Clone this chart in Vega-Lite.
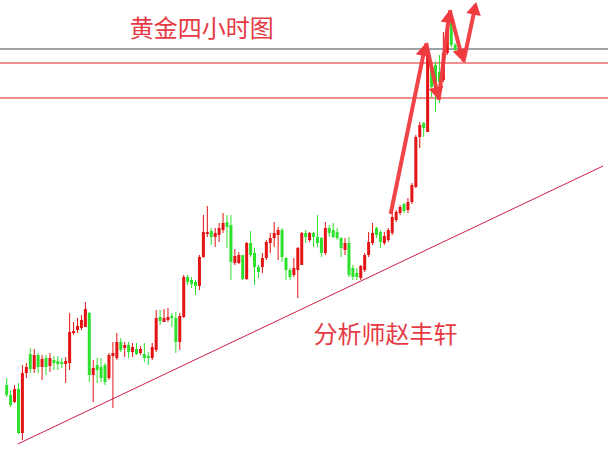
{
  "$schema": "https://vega.github.io/schema/vega-lite/v6.json",
  "width": 608,
  "height": 452,
  "autosize": {"type": "none"},
  "padding": 0,
  "background": "#ffffff",
  "config": {"view": {"stroke": null}},
  "datasets": {
    "candles": [
      {"t":0,"o":67,"h":74,"l":55,"c":57},
      {"t":1,"o":57,"h":62,"l":45,"c":47},
      {"t":2,"o":50,"h":67,"l":49,"c":63},
      {"t":3,"o":63,"h":69,"l":18,"c":19},
      {"t":4,"o":19,"h":87,"l":12,"c":79},
      {"t":5,"o":79,"h":89,"l":74,"c":85},
      {"t":6,"o":98,"h":104,"l":79,"c":83},
      {"t":7,"o":83,"h":103,"l":79,"c":97},
      {"t":8,"o":97,"h":99,"l":79,"c":85},
      {"t":9,"o":85,"h":97,"l":72,"c":93},
      {"t":10,"o":94,"h":97,"l":77,"c":85},
      {"t":11,"o":86,"h":99,"l":80,"c":94},
      {"t":12,"o":92,"h":96,"l":82,"c":89},
      {"t":13,"o":91,"h":96,"l":82,"c":88},
      {"t":14,"o":90,"h":94,"l":84,"c":88},
      {"t":15,"o":88,"h":95,"l":69,"c":91},
      {"t":16,"o":89,"h":139,"l":82,"c":120},
      {"t":17,"o":119,"h":130,"l":117,"c":121},
      {"t":18,"o":122,"h":134,"l":119,"c":126},
      {"t":19,"o":124,"h":137,"l":122,"c":132},
      {"t":20,"o":125,"h":150,"l":125,"c":143},
      {"t":21,"o":139,"h":140,"l":70,"c":77},
      {"t":22,"o":77,"h":92,"l":50,"c":84},
      {"t":23,"o":87,"h":94,"l":69,"c":82},
      {"t":24,"o":85,"h":94,"l":70,"c":74},
      {"t":25,"o":87,"h":89,"l":67,"c":70},
      {"t":26,"o":74,"h":99,"l":72,"c":97},
      {"t":27,"o":96,"h":110,"l":44,"c":99},
      {"t":28,"o":94,"h":119,"l":92,"c":110},
      {"t":29,"o":110,"h":114,"l":100,"c":102},
      {"t":30,"o":104,"h":110,"l":95,"c":107},
      {"t":31,"o":107,"h":110,"l":94,"c":100},
      {"t":32,"o":100,"h":109,"l":95,"c":105},
      {"t":33,"o":103,"h":109,"l":97,"c":98},
      {"t":34,"o":99,"h":106,"l":97,"c":103},
      {"t":35,"o":98,"h":109,"l":90,"c":94},
      {"t":36,"o":96,"h":100,"l":87,"c":94},
      {"t":37,"o":94,"h":109,"l":92,"c":105},
      {"t":38,"o":102,"h":142,"l":100,"c":134},
      {"t":39,"o":135,"h":142,"l":127,"c":131},
      {"t":40,"o":130,"h":143,"l":130,"c":134},
      {"t":41,"o":132,"h":144,"l":130,"c":135},
      {"t":42,"o":136,"h":139,"l":125,"c":134},
      {"t":43,"o":134,"h":140,"l":99,"c":110},
      {"t":44,"o":110,"h":139,"l":102,"c":136},
      {"t":45,"o":135,"h":177,"l":134,"c":175},
      {"t":46,"o":175,"h":177,"l":167,"c":170},
      {"t":47,"o":172,"h":175,"l":164,"c":168},
      {"t":48,"o":170,"h":172,"l":157,"c":166},
      {"t":49,"o":166,"h":197,"l":162,"c":195},
      {"t":50,"o":195,"h":237,"l":194,"c":220},
      {"t":51,"o":218,"h":246,"l":215,"c":220},
      {"t":52,"o":221,"h":224,"l":207,"c":215},
      {"t":53,"o":215,"h":224,"l":205,"c":219},
      {"t":54,"o":217,"h":229,"l":210,"c":224},
      {"t":55,"o":222,"h":239,"l":219,"c":229},
      {"t":56,"o":230,"h":237,"l":204,"c":225},
      {"t":57,"o":227,"h":237,"l":172,"c":190},
      {"t":58,"o":189,"h":203,"l":187,"c":196},
      {"t":59,"o":189,"h":200,"l":188,"c":197},
      {"t":60,"o":197,"h":197,"l":172,"c":173},
      {"t":61,"o":173,"h":210,"l":172,"c":209},
      {"t":62,"o":209,"h":221,"l":195,"c":197},
      {"t":63,"o":199,"h":204,"l":167,"c":185},
      {"t":64,"o":185,"h":187,"l":174,"c":180},
      {"t":65,"o":185,"h":199,"l":179,"c":194},
      {"t":66,"o":194,"h":212,"l":192,"c":210},
      {"t":67,"o":209,"h":219,"l":199,"c":214},
      {"t":68,"o":214,"h":230,"l":205,"c":219},
      {"t":69,"o":217,"h":225,"l":192,"c":222},
      {"t":70,"o":222,"h":224,"l":190,"c":195},
      {"t":71,"o":194,"h":195,"l":172,"c":182},
      {"t":72,"o":182,"h":184,"l":172,"c":175},
      {"t":73,"o":177,"h":194,"l":175,"c":184},
      {"t":74,"o":182,"h":205,"l":154,"c":204},
      {"t":75,"o":187,"h":220,"l":187,"c":219},
      {"t":76,"o":219,"h":222,"l":209,"c":215},
      {"t":77,"o":212,"h":220,"l":210,"c":219},
      {"t":78,"o":219,"h":220,"l":205,"c":215},
      {"t":79,"o":215,"h":237,"l":205,"c":209},
      {"t":80,"o":214,"h":215,"l":195,"c":199},
      {"t":81,"o":199,"h":230,"l":197,"c":224},
      {"t":82,"o":224,"h":227,"l":215,"c":219},
      {"t":83,"o":222,"h":229,"l":214,"c":215},
      {"t":84,"o":220,"h":224,"l":212,"c":214},
      {"t":85,"o":214,"h":215,"l":195,"c":204},
      {"t":86,"o":202,"h":214,"l":197,"c":209},
      {"t":87,"o":209,"h":215,"l":175,"c":177},
      {"t":88,"o":184,"h":187,"l":172,"c":175},
      {"t":89,"o":179,"h":184,"l":172,"c":175},
      {"t":90,"o":174,"h":187,"l":172,"c":186},
      {"t":91,"o":182,"h":199,"l":180,"c":197},
      {"t":92,"o":197,"h":220,"l":195,"c":210},
      {"t":93,"o":209,"h":229,"l":207,"c":219},
      {"t":94,"o":224,"h":225,"l":214,"c":217},
      {"t":95,"o":220,"h":222,"l":204,"c":210},
      {"t":96,"o":209,"h":220,"l":207,"c":216},
      {"t":97,"o":212,"h":224,"l":210,"c":222},
      {"t":98,"o":219,"h":245,"l":217,"c":235},
      {"t":99,"o":232,"h":242,"l":230,"c":240},
      {"t":100,"o":239,"h":247,"l":237,"c":245},
      {"t":101,"o":248,"h":249,"l":239,"c":241},
      {"t":102,"o":242,"h":254,"l":239,"c":250},
      {"t":103,"o":250,"h":269,"l":248,"c":267},
      {"t":104,"o":265,"h":317,"l":264,"c":315},
      {"t":105,"o":315,"h":330,"l":304,"c":327},
      {"t":106,"o":329,"h":330,"l":315,"c":324},
      {"t":107,"o":320,"h":407,"l":320,"c":402},
      {"t":108,"o":385,"h":389,"l":355,"c":365},
      {"t":109,"o":387,"h":390,"l":340,"c":362},
      {"t":110,"o":380,"h":397,"l":349,"c":370},
      {"t":111,"o":372,"h":420,"l":370,"c":399},
      {"t":112,"o":399,"h":427,"l":397,"c":422},
      {"t":113,"o":434,"h":438,"l":405,"c":407},
      {"t":114,"o":407,"h":409,"l":399,"c":402}
    ],
    "levels": [
      {"level":403,"kind":"gray"},
      {"level":389,"kind":"red"},
      {"level":354,"kind":"red"}
    ],
    "trend": [
      {"t":2.8,"p":8},
      {"t":151.6,"p":286}
    ],
    "arrows": [
      {"seg":"A","ord":0,"t":97.6,"p":238},
      {"seg":"A","ord":1,"t":106.2,"p":402.6},
      {"seg":"B","ord":0,"t":106.6,"p":409},
      {"seg":"B","ord":1,"t":109.5,"p":358.3},
      {"seg":"C","ord":0,"t":109.8,"p":352},
      {"seg":"C","ord":1,"t":112.4,"p":435.6},
      {"seg":"D","ord":0,"t":112.6,"p":442},
      {"seg":"D","ord":1,"t":115.65,"p":396.3},
      {"seg":"E","ord":0,"t":116.1,"p":390},
      {"seg":"E","ord":1,"t":119,"p":443.7}
    ],
    "heads": [
      {"t":106.2,"p":402.6,"ang":12},
      {"t":109.5,"p":358.3,"ang":167},
      {"t":112.4,"p":435.6,"ang":7},
      {"t":115.65,"p":396.3,"ang":165},
      {"t":119,"p":443.7,"ang":12}
    ],
    "labels": [
      {"t":49.6,"p":422,"text":"黄金四小时图"},
      {"t":96.3,"p":116,"text":"分析师赵丰轩"}
    ]
  },
  "layer": [
    {
      "data": {"name": "levels"},
      "mark": {"type": "rule", "strokeWidth": 1},
      "encoding": {
        "y": {"field": "level", "type": "quantitative", "scale": {"domain": [0, 452], "nice": false, "zero": false}, "axis": null},
        "color": {"field": "kind", "type": "nominal", "scale": {"domain": ["gray", "red"], "range": ["#3d4650", "#e01f1f"]}, "legend": null}
      }
    },
    {
      "data": {"name": "trend"},
      "mark": {"type": "line", "strokeWidth": 1, "color": "#cc1f45"},
      "encoding": {
        "x": {"field": "t", "type": "quantitative", "scale": {"domain": [-0.425, 151.575], "nice": false, "zero": false}, "axis": null},
        "y": {"field": "p", "type": "quantitative", "scale": {"domain": [0, 452], "nice": false, "zero": false}, "axis": null}
      }
    },
    {
      "data": {"name": "candles"},
      "mark": {"type": "rule", "strokeWidth": 1},
      "encoding": {
        "x": {"field": "t", "type": "quantitative", "scale": {"domain": [-0.425, 151.575], "nice": false, "zero": false}, "axis": null},
        "y": {"field": "l", "type": "quantitative", "scale": {"domain": [0, 452], "nice": false, "zero": false}, "axis": null},
        "y2": {"field": "h"},
        "color": {"condition": {"test": "datum.c >= datum.o", "value": "#e31414"}, "value": "#2ee02e"}
      }
    },
    {
      "data": {"name": "candles"},
      "mark": {"type": "bar", "size": 3},
      "encoding": {
        "x": {"field": "t", "type": "quantitative", "scale": {"domain": [-0.425, 151.575], "nice": false, "zero": false}, "axis": null},
        "y": {"field": "o", "type": "quantitative", "scale": {"domain": [0, 452], "nice": false, "zero": false}, "axis": null},
        "y2": {"field": "c"},
        "color": {"condition": {"test": "datum.c >= datum.o", "value": "#e31414"}, "value": "#2ee02e"}
      }
    },
    {
      "data": {"name": "arrows"},
      "mark": {"type": "line", "strokeWidth": 4, "color": "#ef3a3f", "strokeCap": "butt", "opacity": 0.95},
      "encoding": {
        "x": {"field": "t", "type": "quantitative", "scale": {"domain": [-0.425, 151.575], "nice": false, "zero": false}, "axis": null},
        "y": {"field": "p", "type": "quantitative", "scale": {"domain": [0, 452], "nice": false, "zero": false}, "axis": null},
        "detail": {"field": "seg", "type": "nominal"},
        "order": {"field": "ord", "type": "quantitative"}
      }
    },
    {
      "data": {"name": "heads"},
      "mark": {"type": "point", "shape": "triangle-up", "filled": true, "size": 220, "color": "#ef3a3f", "opacity": 1},
      "encoding": {
        "x": {"field": "t", "type": "quantitative", "scale": {"domain": [-0.425, 151.575], "nice": false, "zero": false}, "axis": null},
        "y": {"field": "p", "type": "quantitative", "scale": {"domain": [0, 452], "nice": false, "zero": false}, "axis": null},
        "angle": {"field": "ang", "type": "quantitative", "scale": null}
      }
    },
    {
      "data": {"name": "labels"},
      "mark": {"type": "text", "font": "Noto Sans CJK SC", "fontSize": 24, "color": "#e63a44", "align": "center", "baseline": "middle"},
      "encoding": {
        "x": {"field": "t", "type": "quantitative", "scale": {"domain": [-0.425, 151.575], "nice": false, "zero": false}, "axis": null},
        "y": {"field": "p", "type": "quantitative", "scale": {"domain": [0, 452], "nice": false, "zero": false}, "axis": null},
        "text": {"field": "text", "type": "nominal"}
      }
    }
  ]
}
